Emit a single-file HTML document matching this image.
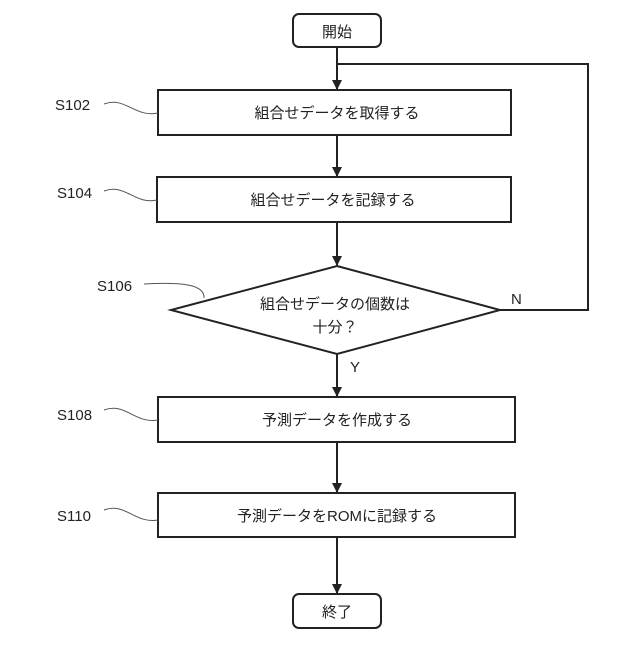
<!DOCTYPE html>
<html><head><meta charset="utf-8"><style>body{margin:0;background:#fff}</style></head><body>
<svg width="640" height="640" viewBox="0 0 640 640" xmlns="http://www.w3.org/2000/svg" font-family="'Liberation Sans','Noto Sans CJK JP',sans-serif" fill="none" stroke="#222" stroke-width="2">
<defs><marker id="a" markerWidth="10" markerHeight="10" refX="9" refY="5" orient="auto" markerUnits="userSpaceOnUse"><path d="M0,0 L10,5 L0,10 z" fill="#222" stroke="none"/></marker></defs>
<rect x="293" y="14" width="88" height="33" rx="6"/>
<rect x="158" y="90" width="353" height="45"/>
<rect x="157" y="177" width="354" height="45"/>
<polygon points="337,266 500,310 337,354 171,310"/>
<rect x="158" y="397" width="357" height="45"/>
<rect x="158" y="493" width="357" height="44"/>
<rect x="293" y="594" width="88" height="34" rx="6"/>
<line x1="337" y1="47" x2="337" y2="89" marker-end="url(#a)"/>
<line x1="337" y1="135" x2="337" y2="176" marker-end="url(#a)"/>
<line x1="337" y1="222" x2="337" y2="265" marker-end="url(#a)"/>
<line x1="337" y1="354" x2="337" y2="396" marker-end="url(#a)"/>
<line x1="337" y1="442" x2="337" y2="492" marker-end="url(#a)"/>
<line x1="337" y1="537" x2="337" y2="593" marker-end="url(#a)"/>
<polyline points="500,310 588,310 588,64 337,64"/>
<g stroke="#555" stroke-width="1">
<path d="M104,104 C125,96 135,118 158,113"/>
<path d="M104,191 C125,183 135,205 157,200"/>
<path d="M144,284 C180,282 205,284 204,298"/>
<path d="M104,410 C125,402 135,424 158,420"/>
<path d="M104,510 C125,502 135,524 158,520"/>
</g>
<g fill="#222" stroke="none" font-size="15" text-anchor="middle">
<text x="337" y="37">開始</text>
<text x="337" y="118">組合せデータを取得する</text>
<text x="333" y="205">組合せデータを記録する</text>
<text x="335" y="309">組合せデータの個数は</text>
<text x="335" y="332">十分？</text>
<text x="337" y="425">予測データを作成する</text>
<text x="337" y="521">予測データをROMに記録する</text>
<text x="337" y="617">終了</text>
</g>
<g fill="#222" stroke="none" font-size="15">
<text x="55" y="110">S102</text>
<text x="57" y="198">S104</text>
<text x="97" y="291">S106</text>
<text x="57" y="420">S108</text>
<text x="57" y="521">S110</text>
<text x="511" y="304">N</text>
<text x="350" y="372">Y</text>
</g>
</svg>
</body></html>
